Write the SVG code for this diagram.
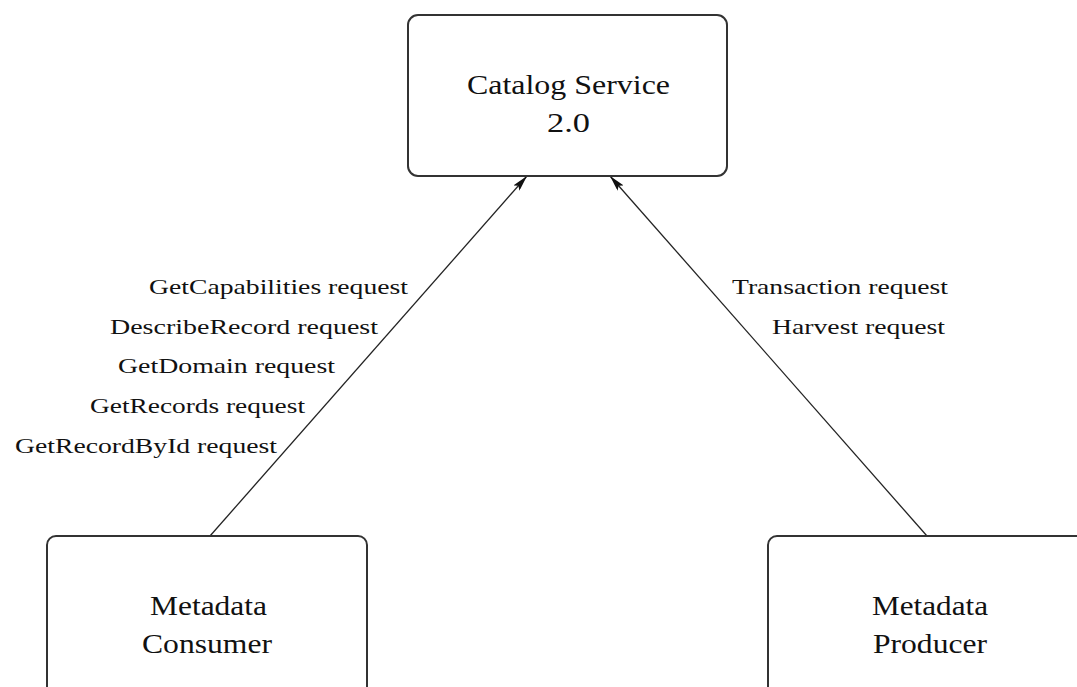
<svg xmlns="http://www.w3.org/2000/svg" width="1077" height="687" viewBox="0 0 1077 687">
<style>
.box{fill:#fff;stroke:#333;stroke-width:2}
.conn{stroke:#222;stroke-width:1.3;fill:none}
.t{font-family:"Liberation Serif","Times New Roman",serif;fill:#111}
.lbl{font-size:21px}
.node{font-size:27px}
</style>
<defs>
<marker id="ah" viewBox="0 0 16 8" refX="16" refY="4" markerWidth="16" markerHeight="8" markerUnits="userSpaceOnUse" orient="auto">
<path d="M0,0 L16,4 L0,8 L3,4 Z" fill="#111"/>
</marker>
</defs>
<rect width="1077" height="687" fill="#fff"/>
<g id="connectors">
<line class="conn" x1="210" y1="536" x2="527" y2="176" marker-end="url(#ah)"/>
<line class="conn" x1="927" y1="536" x2="610" y2="176" marker-end="url(#ah)"/>
</g>
<g id="catalog">
<rect class="box" x="408" y="15" width="319" height="161" rx="10"/>
<text class="t node" x="467" y="94" textLength="203" lengthAdjust="spacingAndGlyphs">Catalog Service</text>
<text class="t node" x="547" y="132" textLength="43" lengthAdjust="spacingAndGlyphs">2.0</text>
</g>
<g id="consumer">
<rect class="box" x="47" y="536" width="320" height="180" rx="9"/>
<text class="t node" x="150" y="615" textLength="117" lengthAdjust="spacingAndGlyphs">Metadata</text>
<text class="t node" x="142" y="653" textLength="130" lengthAdjust="spacingAndGlyphs">Consumer</text>
</g>
<g id="producer">
<rect class="box" x="768" y="536" width="340" height="180" rx="9"/>
<text class="t node" x="872" y="615" textLength="116" lengthAdjust="spacingAndGlyphs">Metadata</text>
<text class="t node" x="873" y="653" textLength="114" lengthAdjust="spacingAndGlyphs">Producer</text>
</g>
<g id="labels">
<text class="t lbl" x="149" y="294" textLength="259" lengthAdjust="spacingAndGlyphs">GetCapabilities request</text>
<text class="t lbl" x="110" y="334" textLength="268" lengthAdjust="spacingAndGlyphs">DescribeRecord request</text>
<text class="t lbl" x="118" y="373" textLength="217" lengthAdjust="spacingAndGlyphs">GetDomain request</text>
<text class="t lbl" x="90" y="413" textLength="215" lengthAdjust="spacingAndGlyphs">GetRecords request</text>
<text class="t lbl" x="15" y="453" textLength="262" lengthAdjust="spacingAndGlyphs">GetRecordById request</text>
<text class="t lbl" x="732" y="294" textLength="216" lengthAdjust="spacingAndGlyphs">Transaction request</text>
<text class="t lbl" x="772" y="334" textLength="173" lengthAdjust="spacingAndGlyphs">Harvest request</text>
</g>
</svg>
